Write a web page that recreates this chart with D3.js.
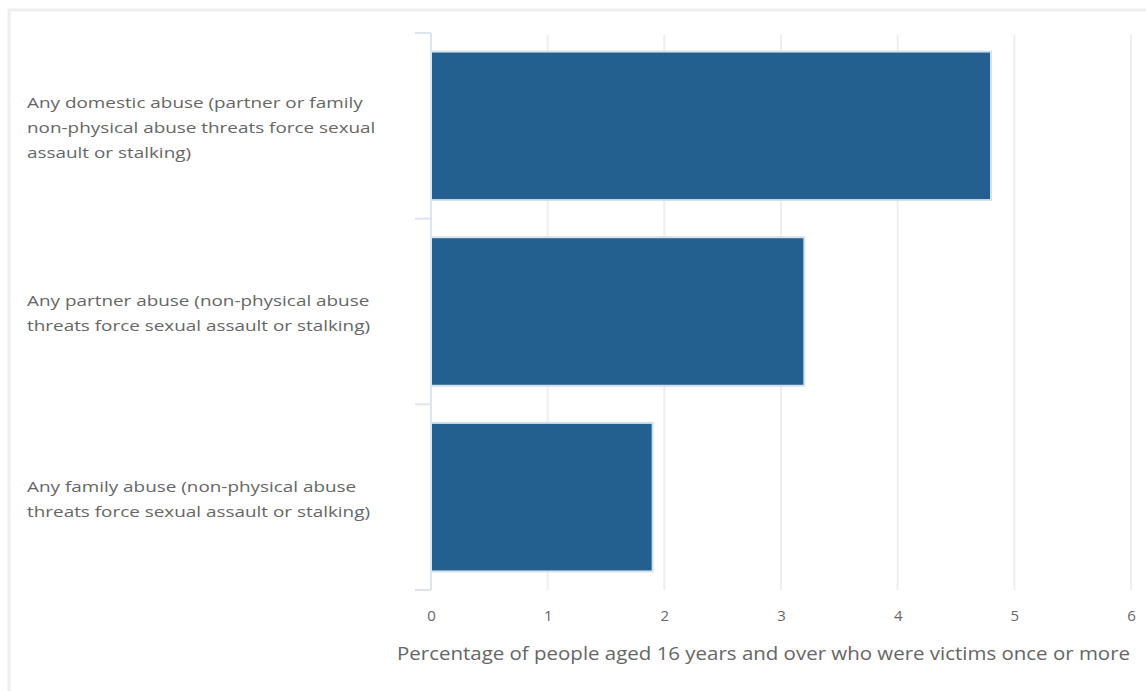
<!DOCTYPE html>
<html><head><meta charset="utf-8">
<script src="https://cdn.jsdelivr.net/npm/d3@7"></script>
<style>body{margin:0;background:#fff;font-family:"Open Sans",sans-serif;}</style>
</head><body>
<svg id="c" width="1146" height="691"></svg>
<script>
const categories = [
  ["Any domestic abuse (partner or family", "non-physical abuse threats force sexual", "assault or stalking)"],
  ["Any partner abuse (non-physical abuse", "threats force sexual assault or stalking)"],
  ["Any family abuse (non-physical abuse", "threats force sexual assault or stalking)"]
];
const categoryKeys = ["domestic", "partner", "family"];
const values = [4.8, 3.2, 1.9];
const xTicks = [0, 1, 2, 3, 4, 5, 6];
const xTitle = "Percentage of people aged 16 years and over who were victims once or more";

(function () {
const svg = d3.select("#c");
svg.append("rect").attr("x", 9).attr("y", 10).attr("width", 1160).attr("height", 700)
  .attr("fill", "none").attr("stroke", "#eeeeee").attr("stroke-width", 3);

const pL = 431, pR = 1131, pT = 33, pB = 590;
const x = d3.scaleLinear().domain([0, 6]).range([pL, pR]);
const y = d3.scaleBand().domain(categoryKeys).range([pT, pB]).paddingInner(0.2).paddingOuter(0.1);

svg.append("g").selectAll("line").data(xTicks.filter(d => d > 0)).join("line")
  .attr("x1", d => x(d)).attr("x2", d => x(d)).attr("y1", pT + 2).attr("y2", pB)
  .attr("stroke", "#eeeeee").attr("stroke-width", 2);

svg.append("g").selectAll("rect").data(values).join("rect")
  .attr("x", x(0)).attr("y", (d, i) => y(categoryKeys[i]))
  .attr("width", d => x(d) - x(0)).attr("height", y.bandwidth())
  .attr("fill", "#23608f").attr("stroke", "#d6e0ea").attr("stroke-width", 2);

const yAxis = d3.axisLeft(y).tickSize(0).tickFormat("");
const ga = svg.append("g").attr("transform", `translate(${pL},0)`).call(yAxis);
ga.select(".domain").attr("stroke", "#dde4ef").attr("stroke-width", 2).attr("d", `M0,${pT}V${pB}`);
const boundaries = [pT, ...categoryKeys.slice(1).map(k => y(k) - y.step() * y.paddingInner() / 2), pB];
ga.selectAll(".bt").data(boundaries).join("line").attr("class", "bt")
  .attr("x1", -16).attr("x2", 0).attr("y1", d => d).attr("y2", d => d)
  .attr("stroke", "#dde4ef").attr("stroke-width", 2);

categories.forEach((lines, i) => {
  const cy = y(categoryKeys[i]) + y.bandwidth() / 2;
  const lh = 25;
  const g = svg.append("g").attr("transform", "translate(27,0) scale(1.26,1)");
  const t = g.append("text").attr("x", 0).attr("fill", "#666").style("font-size", "15px")
    .attr("font-family", "Open Sans");
  lines.forEach((ln, j) => {
    t.append("tspan").attr("x", 0).attr("y", cy - (lines.length - 1) * lh / 2 + j * lh + 7).text(ln);
  });
});

const xAxis = d3.axisBottom(x).tickValues(xTicks).tickFormat(d3.format("d")).tickSize(0).tickPadding(0);
const gx = svg.append("g").attr("transform", `translate(0,${pB})`).call(xAxis);
gx.select(".domain").remove();
gx.selectAll("text").attr("y", 20).attr("fill", "#666").style("font-size", "15px").attr("font-family", "Open Sans");

svg.append("text").attr("x", 397).attr("y", 660).attr("text-anchor", "start")
  .attr("textLength", 733).attr("lengthAdjust", "spacingAndGlyphs")
  .attr("fill", "#666").style("font-size", "18px").attr("font-family", "Open Sans").text(xTitle);
})();
</script>
</body></html>
